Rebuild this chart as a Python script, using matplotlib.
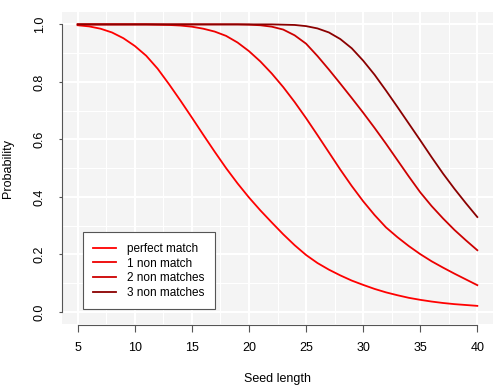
import matplotlib
matplotlib.use("Agg")
import matplotlib.pyplot as plt
import numpy as np

plt.rcParams["font.family"] = ["Liberation Sans", "DejaVu Sans"]

# values
seed_len = list(range(5, 41))
perfect = [0.997, 0.993, 0.985, 0.972, 0.952, 0.925, 0.891, 0.846, 0.792, 0.735,
           0.676, 0.616, 0.557, 0.5, 0.447, 0.398, 0.353, 0.311, 0.27, 0.232,
           0.198, 0.17, 0.147, 0.127, 0.109, 0.094, 0.08, 0.068, 0.058, 0.049,
           0.042, 0.036, 0.031, 0.027, 0.024, 0.021]
one_nm = [1.0, 1.0, 1.0, 1.0, 1.0, 1.0, 1.0, 0.999, 0.998, 0.996,
          0.992, 0.985, 0.975, 0.96, 0.937, 0.907, 0.871, 0.829, 0.782, 0.73,
          0.674, 0.615, 0.555, 0.495, 0.438, 0.385, 0.337, 0.294, 0.26, 0.229,
          0.201, 0.176, 0.154, 0.133, 0.113, 0.093]
two_nm = [1.0] * 15 + [0.999, 0.997, 0.992, 0.982, 0.962, 0.933, 0.89, 0.843,
                       0.794, 0.744, 0.693, 0.64, 0.585, 0.528, 0.471, 0.416,
                       0.368, 0.325, 0.285, 0.249, 0.2145]
three_nm = [1.0] * 18 + [0.999, 0.998, 0.994, 0.986, 0.972, 0.949, 0.917, 0.874,
                         0.825, 0.77, 0.713, 0.655, 0.597, 0.538, 0.481, 0.428,
                         0.378, 0.33]
labels = ["perfect match", "1 non match", "2 non matches", "3 non matches"]
colors = ["#FF0000", "#EE0000", "#CD0000", "#8B0000"]

fig = plt.figure(figsize=(5, 3.91), dpi=100)
ax = fig.add_axes([0.1234, 0.1714, 0.8632, 0.7971])
ax.set_facecolor("#F4F4F4")
ax.set_xlim(3.6, 41.4)
ax.set_ylim(-0.042, 1.042)

# R-like grid: major + minor white lines
for x in np.arange(5, 40.1, 5):
    ax.axvline(x, color="white", lw=1.5, zorder=1)
for x in np.arange(7.5, 40, 5):
    ax.axvline(x, color="white", lw=0.8, zorder=1)
for y in np.arange(0, 1.01, 0.2):
    ax.axhline(y, color="white", lw=1.5, zorder=1)
for y in np.arange(0.1, 1.0, 0.2):
    ax.axhline(y, color="white", lw=0.8, zorder=1)

for ys, lab, c in zip([perfect, one_nm, two_nm, three_nm], labels, colors):
    ax.plot(seed_len, ys, color=c, lw=1.3, label=lab, zorder=3,
            solid_joinstyle="round")

for s in ["top", "right"]:
    ax.spines[s].set_visible(False)
ax.spines["left"].set_bounds(0, 1)
ax.spines["bottom"].set_bounds(5, 40)
ax.spines["bottom"].set_position(("outward", 1))
for s in ["left", "bottom"]:
    ax.spines[s].set_color("#555555")
    ax.spines[s].set_linewidth(0.8)

ax.set_xticks(range(5, 41, 5))
ax.set_yticks([0.0, 0.2, 0.4, 0.6, 0.8, 1.0])
ax.set_yticklabels(["0.0", "0.2", "0.4", "0.6", "0.8", "1.0"], rotation=90, va="center")
ax.tick_params(axis="x", length=5, width=0.8, color="#555555", labelsize=9, pad=7)
ax.tick_params(axis="y", length=2.5, width=0.8, color="#555555", labelsize=9, pad=9)

ax.set_xlabel("Seed length", fontsize=9, labelpad=14)
ax.set_ylabel("Probability", fontsize=9, labelpad=14)

leg = ax.legend(loc="lower left", bbox_to_anchor=(0.0487, 0.047), fontsize=8.5,
                frameon=True, fancybox=False, framealpha=1, edgecolor="#555555",
                handlelength=1.9, handletextpad=0.95, labelspacing=0.22,
                borderpad=0.9, borderaxespad=0)
leg.get_frame().set_linewidth(0.8)

fig.savefig("out.png", dpi=100)
